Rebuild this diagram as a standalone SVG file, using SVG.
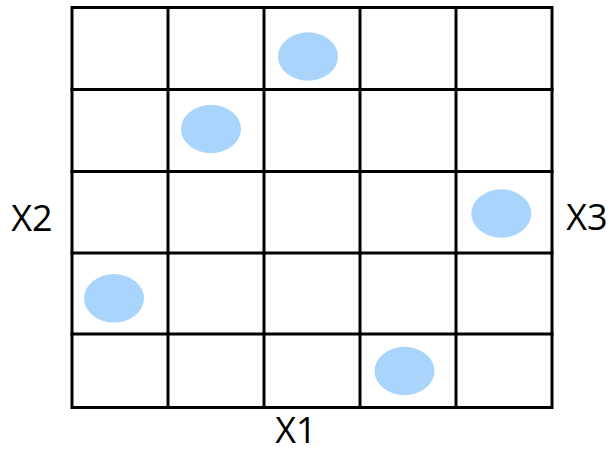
<svg xmlns="http://www.w3.org/2000/svg" width="610" height="449" viewBox="0 0 610 449">
<style>
.g{stroke:#000;stroke-width:3;fill:none;stroke-linecap:square}
.dot{fill:#A9D5FC}
.lbl{font-family:"Open Sans","Liberation Sans",sans-serif;font-size:36px;fill:#000;text-anchor:middle}
</style>
<rect width="610" height="449" fill="#fff"/>
<g id="grid" class="g">
<rect x="72" y="7.5" width="480" height="400"/>
<line x1="168" y1="7.5" x2="168" y2="407.5"/>
<line x1="264" y1="7.5" x2="264" y2="407.5"/>
<line x1="360" y1="7.5" x2="360" y2="407.5"/>
<line x1="456" y1="7.5" x2="456" y2="407.5"/>
<line x1="72" y1="89.5" x2="552" y2="89.5"/>
<line x1="72" y1="171.5" x2="552" y2="171.5"/>
<line x1="72" y1="253" x2="552" y2="253"/>
<line x1="72" y1="334" x2="552" y2="334"/>
</g>
<g id="dots">
<ellipse class="dot" cx="308" cy="56.5" rx="30" ry="24.2"/>
<ellipse class="dot" cx="211" cy="129" rx="30" ry="24.2"/>
<ellipse class="dot" cx="501.3" cy="213.5" rx="30" ry="24.2"/>
<ellipse class="dot" cx="114" cy="298.3" rx="30" ry="24.2"/>
<ellipse class="dot" cx="404.5" cy="371" rx="30" ry="24.2"/>
</g>
<g id="labels">
<text class="lbl" x="32" y="231">X2</text>
<text class="lbl" x="587" y="229.5">X3</text>
<text class="lbl" x="296" y="443">X1</text>
</g>
</svg>
